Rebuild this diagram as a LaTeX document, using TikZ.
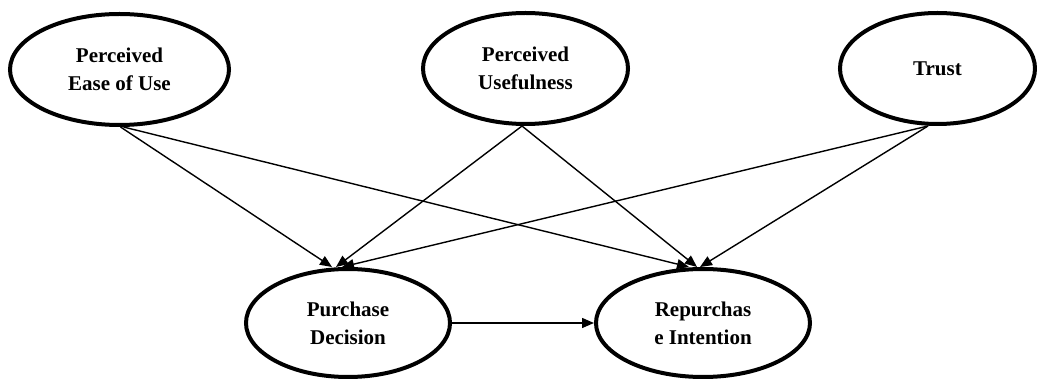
\documentclass[tikz,border=0pt]{standalone}
\usepackage{fontspec}
\setmainfont{Liberation Serif}
\usetikzlibrary{shapes.geometric,arrows.meta}
\begin{document}
\begin{tikzpicture}[x=1pt,y=-1pt,
  construct/.style={ellipse,draw=black,line width=4pt,inner sep=0pt,align=center,
    font=\bfseries\fontsize{21}{28}\selectfont},
  link/.style={line width=1.4pt,-{Triangle[length=12pt,width=10pt]}}]
\useasboundingbox (0,0) rectangle (1037,379);
\node[construct,minimum width=219pt,minimum height=111pt] (ease) at (119.5,69.5) {Perceived\\Ease of Use};
\node[construct,minimum width=205pt,minimum height=111pt] (usef) at (525.5,68.5) {Perceived\\Usefulness};
\node[construct,minimum width=195pt,minimum height=111pt] (trust) at (937.5,68.5) {Trust};
\node[construct,minimum width=204pt,minimum height=108pt] (pd) at (348,323) {Purchase\\Decision};
\node[construct,minimum width=214pt,minimum height=108pt] (ri) at (703,323) {Repurchas\\e Intention};
\draw[link] ([xshift=1pt]ease.south) -- ([xshift=-16pt]pd.north);
\draw[link] ([xshift=4pt]ease.south) -- ([xshift=-14pt]ri.north);
\draw[link] ([xshift=-3.5pt]usef.south) -- ([xshift=-12pt]pd.north);
\draw[link] ([xshift=-3.5pt]usef.south) -- ([xshift=-6pt]ri.north);
\draw[link] ([xshift=-9.5pt]trust.south) -- ([xshift=-6pt]pd.north);
\draw[link] ([xshift=-9.5pt]trust.south) -- ([xshift=-3pt]ri.north);
\draw[link] (pd.east) -- (ri.west);
\end{tikzpicture}
\end{document}
